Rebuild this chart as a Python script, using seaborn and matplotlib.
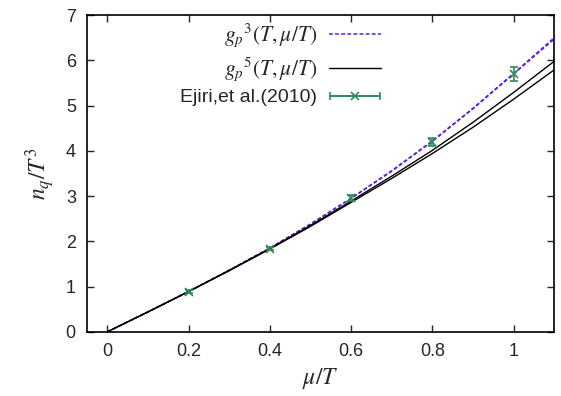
import numpy as np
import pandas as pd
import matplotlib
matplotlib.use("Agg")
import matplotlib.pyplot as plt
import seaborn as sns
from matplotlib.container import ErrorbarContainer
from matplotlib.legend_handler import HandlerErrorbar

sns.set_style("ticks")
plt.rcParams['font.family'] = ['Liberation Sans', 'DejaVu Sans']
plt.rcParams['mathtext.fontset'] = 'stix'

x_curve = [0.0, 0.1, 0.2, 0.3, 0.4, 0.5, 0.6, 0.7, 0.8, 0.9, 1.0, 1.1]
g3_a = [0.0, 0.44, 0.89, 1.36, 1.85, 2.38, 2.95, 3.55, 4.21, 4.93, 5.70, 6.47]
g3_b = [0.0, 0.44, 0.89, 1.36, 1.85, 2.38, 2.95, 3.56, 4.22, 4.94, 5.71, 6.50]
g5_a = [0.0, 0.44, 0.89, 1.36, 1.84, 2.35, 2.89, 3.44, 4.01, 4.63, 5.29, 5.98]
g5_b = [0.0, 0.44, 0.89, 1.35, 1.83, 2.33, 2.86, 3.39, 3.94, 4.52, 5.14, 5.79]

x_data = [0.2, 0.4, 0.6, 0.8, 1.0]
y_data = [0.89, 1.84, 2.96, 4.19, 5.70]
y_err = [0.03, 0.04, 0.06, 0.09, 0.15]

fig = plt.figure(figsize=(5.61, 3.96), dpi=100)
ax = fig.add_axes([0.155, 0.162, 0.833, 0.800])

blue = '#5a1fe0'
green = '#2e8b57'

sns.lineplot(x=x_curve, y=g3_a, ax=ax, color=blue, lw=1.1, linestyle=(0, (2.5, 1.5)),
             label=r'$g_p{}^3(T,\mu/T)$')
sns.lineplot(x=x_curve, y=g3_b, ax=ax, color=blue, lw=1.1, linestyle=(0, (2.5, 1.5)))
sns.lineplot(x=x_curve, y=g5_a, ax=ax, color='black', lw=1.0, label=r'$g_p{}^5(T,\mu/T)$')
sns.lineplot(x=x_curve, y=g5_b, ax=ax, color='black', lw=1.0)
ax.errorbar(x_data, y_data, yerr=y_err, fmt='x', color=green, ms=6, mew=1.2,
            elinewidth=1.2, capsize=3)
# legend proxy (gnuplot-style horizontal error bar sample)
ax.errorbar([np.nan], [np.nan], xerr=[0.1], fmt='x', color=green, ms=6, mew=1.2,
            elinewidth=1.4, capsize=3, label='Ejiri,et al.(2010)')

ax.set_xlim(-0.05, 1.1)
ax.set_ylim(0, 7)
ax.set_xticks([0, 0.2, 0.4, 0.6, 0.8, 1])
ax.set_xticklabels(['0', '0.2', '0.4', '0.6', '0.8', '1'])
ax.set_yticks(range(8))
ax.tick_params(direction='in', top=True, right=True, labelsize=13, length=5, width=1, pad=8)
for s in ax.spines.values():
    s.set_linewidth(1.2)
    s.set_color('black')

ax.set_xlabel(r'$\mu/T$', fontsize=17, labelpad=4)
ax.set_ylabel(r'$n_q/T^3$', fontsize=17, labelpad=6)

leg = ax.legend(loc='upper right', bbox_to_anchor=(0.63, 0.98), frameon=False, markerfirst=False,
                fontsize=14, handlelength=2.7, handletextpad=0.6, labelspacing=0.3,
                borderaxespad=0.0, borderpad=0.0,
                handler_map={ErrorbarContainer: HandlerErrorbar(xerr_size=1.3)})
texts = leg.get_texts()
texts[0].set_fontsize(15.5)
texts[1].set_fontsize(15.5)
for t in texts:
    t.set_ha('right')
leg._legend_box.align = 'right'

fig.savefig('out.png', dpi=100)
